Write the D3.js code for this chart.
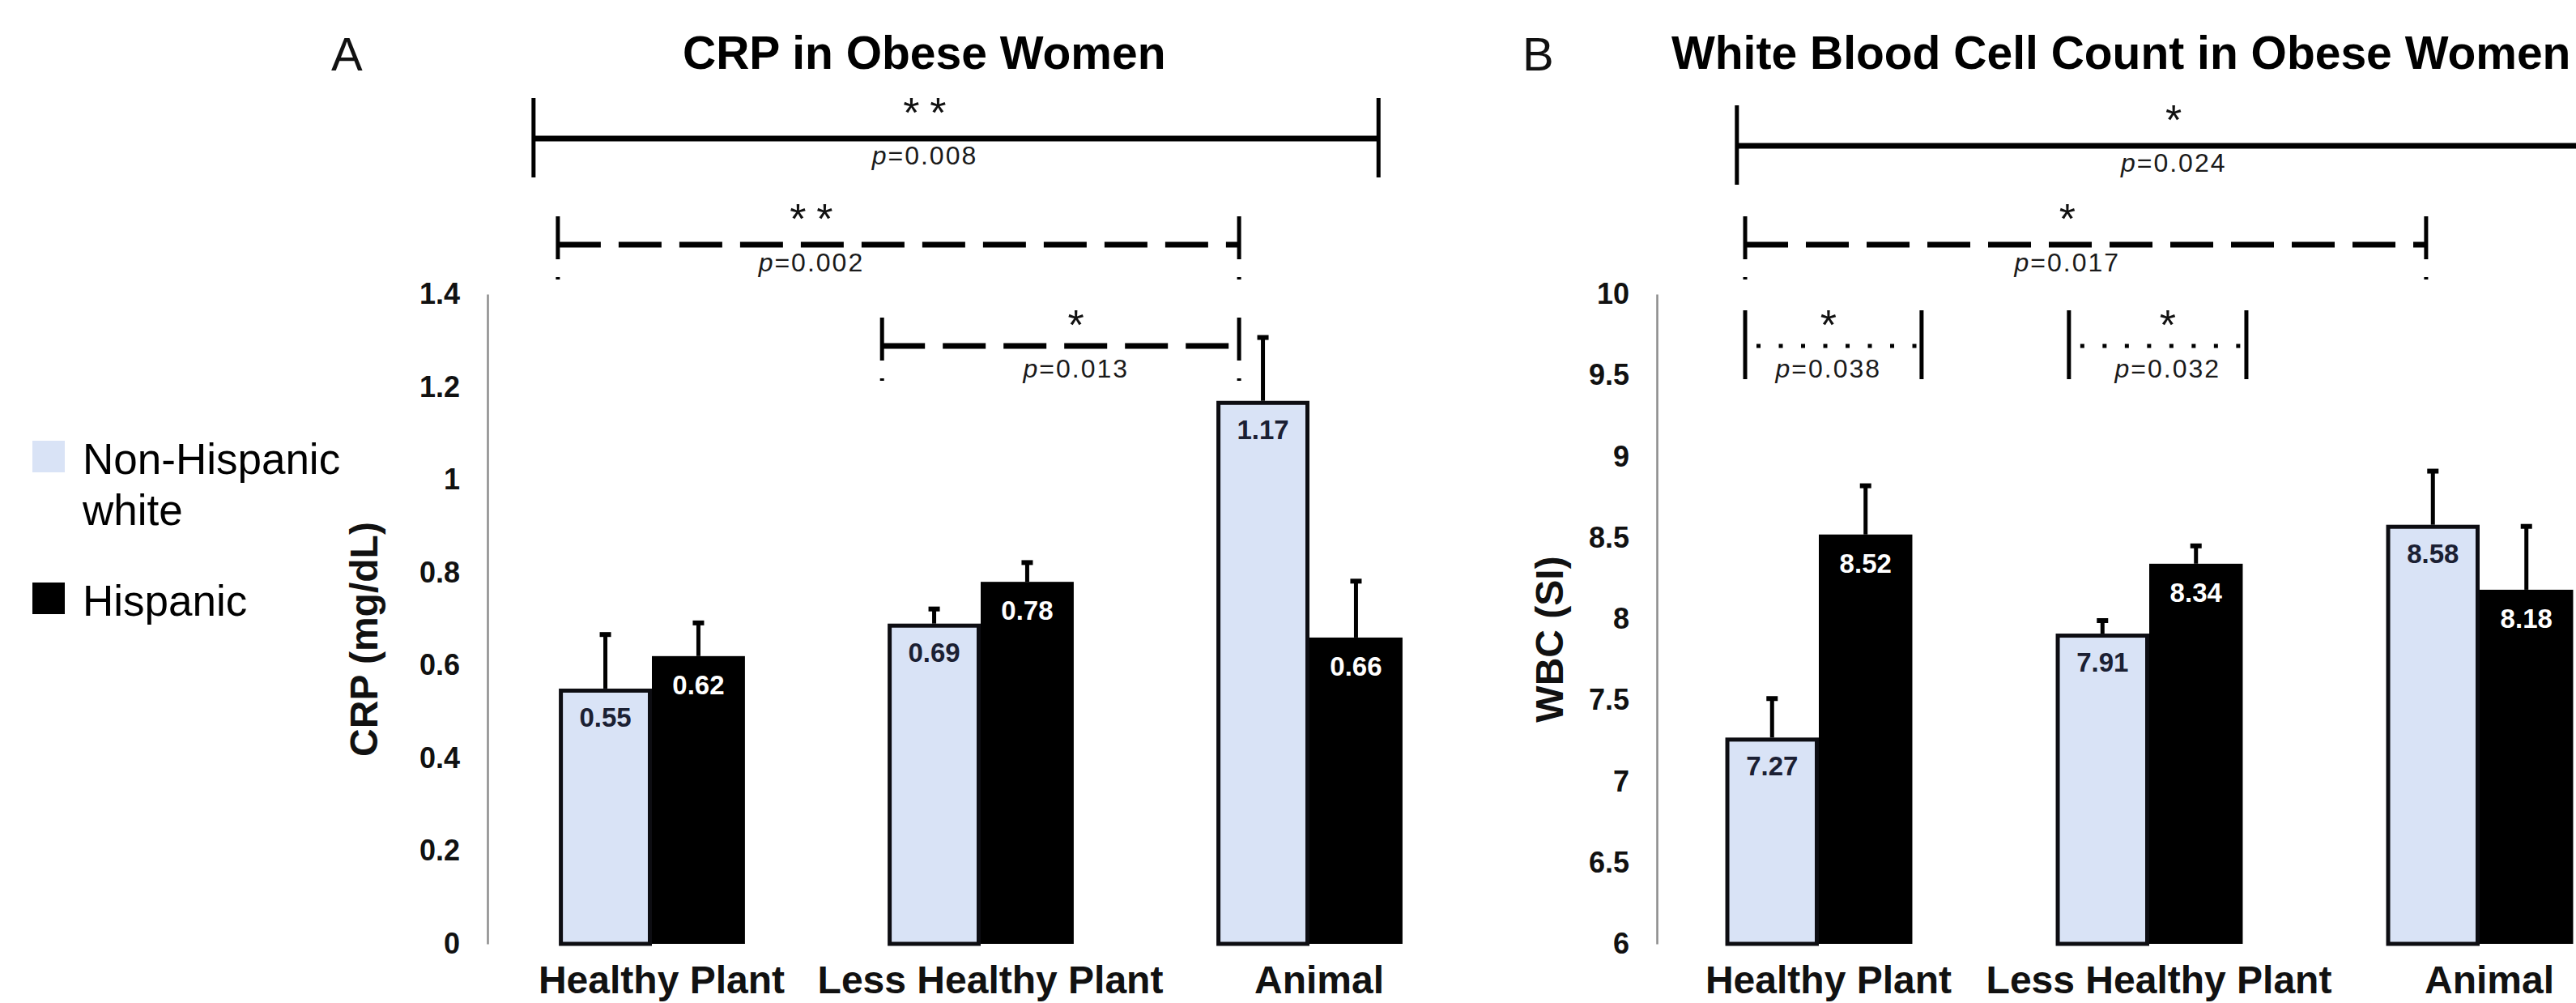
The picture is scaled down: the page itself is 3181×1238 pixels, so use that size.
<!DOCTYPE html>
<html><head><meta charset="utf-8">
<script src="https://cdn.jsdelivr.net/npm/d3@7"></script>
<style>
html,body{margin:0;padding:0;background:#fff;}
svg{display:block;font-family:"Liberation Sans",Arial,Helvetica,sans-serif;}
</style>
</head><body>
<svg id="chart" width="3181" height="1238"></svg>
<script>
// ---------- data ----------
const categories = ["Healthy Plant", "Less Healthy Plant", "Animal"];
const seriesNames = ["Non-Hispanic white", "Hispanic"];

const crpNHW = [0.55, 0.69, 1.17];
const crpHisp = [0.62, 0.78, 0.66];
const crpNHWErr = [0.12, 0.035, 0.14];
const crpHispErr = [0.075, 0.045, 0.125];

const wbcNHW = [7.27, 7.91, 8.58];
const wbcHisp = [8.52, 8.34, 8.18];
const wbcNHWErr = [0.25, 0.09, 0.34];
const wbcHispErr = [0.31, 0.12, 0.40];

const crpTicks = [0, 0.2, 0.4, 0.6, 0.8, 1, 1.2, 1.4];
const crpTickLabels = ["0", "0.2", "0.4", "0.6", "0.8", "1", "1.2", "1.4"];
const wbcTicks = [6, 6.5, 7, 7.5, 8, 8.5, 9, 9.5, 10];
const wbcTickLabels = ["6", "6.5", "7", "7.5", "8", "8.5", "9", "9.5", "10"];

// significance brackets: positions in category units (0 = left edge of first group, 1 = one group)
const crpBrackets = [
  {row: 0, kind: "solid",  from: 0.14,  to: 2.71,  mid: 1.33,  stars: 2, p: "0.008"},
  {row: 1, kind: "dashed", from: 0.214, to: 2.286, mid: 0.985, stars: 2, p: "0.002"},
  {row: 2, kind: "dashed", from: 1.2,   to: 2.286, mid: 1.79,  stars: 1, p: "0.013"}
];
const wbcBrackets = [
  {row: 0, kind: "solid",  from: 0.252, to: 3.5,   mid: 1.574, stars: 1, p: "0.024"},
  {row: 1, kind: "dashed", from: 0.277, to: 2.338, mid: 1.252, stars: 1, p: "0.017"},
  {row: 2, kind: "dotted", from: 0.277, to: 0.811, mid: 0.529, stars: 1, p: "0.038"},
  {row: 2, kind: "dotted", from: 1.257, to: 1.794, mid: 1.556, stars: 1, p: "0.032"}
];

// ---------- styles / layout ----------
const LIGHT = "#d9e3f6";
const svg = d3.select("#chart");
svg.append("rect").attr("width", 3181).attr("height", 1238).attr("fill", "#fff");

const Y_BASE = 1165, Y_TOP = 363;

function drawPanel(cfg) {
  const g = svg.append("g");
  const y = d3.scaleLinear().domain(cfg.domain).range([Y_BASE, Y_TOP]);
  const x0 = d3.scaleBand().domain(categories).range([cfg.bandStart, cfg.bandStart + 3 * cfg.step]).padding(0);
  const bw0 = x0.bandwidth();
  const x1 = d3.scaleBand().domain(seriesNames).range([bw0 * 0.217, bw0 * 0.783]).padding(0);
  const xu = d3.scaleLinear().domain([0, 3]).range(x0.range());

  // axis
  const axis = d3.axisLeft(y).tickValues(cfg.ticks).tickSize(0).tickSizeOuter(0).tickPadding(34)
    .tickFormat((d, i) => cfg.tickLabels[i]);
  const ax = g.append("g").attr("transform", `translate(${cfg.axisX},0)`).call(axis);
  ax.select(".domain").attr("stroke", "#8c8c8c").attr("stroke-width", 2.5);
  ax.selectAll("text").attr("font-size", 36).attr("font-weight", "bold").attr("fill", "#111")
    .attr("font-family", '"Liberation Sans",Arial,sans-serif');

  // y title
  g.append("text").attr("transform", `translate(${cfg.yTitleX},789) rotate(-90)`)
    .attr("text-anchor", "middle").attr("font-size", 48).attr("font-weight", "bold").attr("fill", "#111")
    .text(cfg.yTitle);

  // bars
  const rows = categories.map((c, i) => ({
    c, vals: [
      {s: seriesNames[0], v: cfg.nhw[i], e: cfg.nhwErr[i]},
      {s: seriesNames[1], v: cfg.hisp[i], e: cfg.hispErr[i]}
    ]
  }));
  const grp = g.selectAll("g.grp").data(rows).join("g").attr("class", "grp")
    .attr("transform", d => `translate(${x0(d.c)},0)`);

  grp.selectAll("rect.bar").data(d => d.vals).join("rect").attr("class", "bar")
    .attr("x", d => d.s === seriesNames[0] ? x1(d.s) + 2.5 : x1(d.s))
    .attr("y", d => d.s === seriesNames[0] ? y(d.v) + 2.5 : y(d.v))
    .attr("width", d => d.s === seriesNames[0] ? x1.bandwidth() - 5 : x1.bandwidth())
    .attr("height", d => d.s === seriesNames[0] ? Y_BASE - y(d.v) - 2.5 : Y_BASE - y(d.v))
    .attr("fill", d => d.s === seriesNames[0] ? LIGHT : "#000")
    .attr("stroke", d => d.s === seriesNames[0] ? "#0d0d12" : "none")
    .attr("stroke-width", 5);

  // error bars
  grp.selectAll("line.err").data(d => d.vals).join("line").attr("class", "err")
    .attr("x1", d => x1(d.s) + x1.bandwidth() / 2).attr("x2", d => x1(d.s) + x1.bandwidth() / 2)
    .attr("y1", d => y(d.v)).attr("y2", d => y(d.v + d.e))
    .attr("stroke", "#000").attr("stroke-width", 5);
  grp.selectAll("rect.cap").data(d => d.vals).join("rect").attr("class", "cap")
    .attr("x", d => x1(d.s) + x1.bandwidth() / 2 - 7).attr("y", d => y(d.v + d.e) - 1)
    .attr("width", 14).attr("height", 6).attr("fill", "#000");

  // value labels
  grp.selectAll("text.val").data(d => d.vals).join("text").attr("class", "val")
    .attr("x", d => x1(d.s) + x1.bandwidth() / 2).attr("y", d => y(d.v) + 47)
    .attr("text-anchor", "middle").attr("font-size", 33).attr("font-weight", "bold")
    .attr("fill", d => d.s === seriesNames[0] ? "#1b2033" : "#fff")
    .text(d => d.v.toFixed(2));

  // category labels
  g.selectAll("text.cat").data(categories).join("text").attr("class", "cat")
    .attr("x", d => x0(d) + bw0 / 2 + 12).attr("y", 1226)
    .attr("text-anchor", "middle").attr("font-size", 48).attr("font-weight", "bold").attr("fill", "#111")
    .text(d => d);

  // brackets
  const vExt = {solid: [-50, 48], dashed: [-35, 43], dotted: [-44, 41]};
  const hDash = {solid: null, dashed: "53,22", dotted: "5,22.5"};
  const vDash = {solid: null, dashed: "53,22", dotted: null};
  const starOff = [-14, -14, -8];
  const pOff = [32, 33, 39];
  cfg.brackets.forEach(b => {
    const ly = cfg.rowY[b.row];
    const xa = xu(b.from), xb = xu(b.to), xm = xu(b.mid);
    const bg = g.append("g");
    bg.append("line").attr("x1", xa).attr("x2", xb).attr("y1", ly).attr("y2", ly)
      .attr("stroke", "#000").attr("stroke-width", b.kind === "dotted" ? 5 : 7)
      .attr("stroke-dasharray", hDash[b.kind])
      .attr("stroke-dashoffset", b.kind === "dotted" ? -14 : 0);
    [xa, xb].forEach(xx => {
      bg.append("line").attr("x1", xx).attr("x2", xx)
        .attr("y1", ly + vExt[b.kind][0]).attr("y2", ly + vExt[b.kind][1])
        .attr("stroke", "#000").attr("stroke-width", 5)
        .attr("stroke-dasharray", vDash[b.kind]);
    });
    const starXs = b.stars === 2 ? [xm - 16.5, xm + 16.5] : [xm];
    starXs.forEach(sx => {
      bg.append("text").attr("x", sx).attr("y", ly + starOff[b.row])
        .attr("text-anchor", "middle").attr("font-size", 52).attr("fill", "#111").text("*");
    });
    const pt = bg.append("text").attr("x", xm).attr("y", ly + pOff[b.row])
      .attr("text-anchor", "middle").attr("font-size", 32).attr("letter-spacing", 2).attr("fill", "#1a1a1a");
    pt.append("tspan").attr("font-style", "italic").text("p");
    pt.append("tspan").text("=" + b.p);
  });

  // title & panel letter
  g.append("text").attr("x", cfg.letterX).attr("y", 87).attr("font-size", 58).attr("fill", "#111").text(cfg.letter);
  g.append("text").attr("x", cfg.titleX).attr("y", 85).attr("font-size", 57).attr("font-weight", "bold")
    .attr("fill", "#000").text(cfg.title);
}

drawPanel({
  domain: [0, 1.4], ticks: crpTicks, tickLabels: crpTickLabels,
  nhw: crpNHW, hisp: crpHisp, nhwErr: crpNHWErr, hispErr: crpHispErr,
  axisX: 602, bandStart: 602, step: 406, yTitleX: 466, yTitle: "CRP (mg/dL)",
  brackets: crpBrackets, rowY: [171, 302, 427],
  letter: "A", letterX: 409, title: "CRP in Obese Women", titleX: 843
});
drawPanel({
  domain: [6, 10], ticks: wbcTicks, tickLabels: wbcTickLabels,
  nhw: wbcNHW, hisp: wbcHisp, nhwErr: wbcNHWErr, hispErr: wbcHispErr,
  axisX: 2046, bandStart: 2042, step: 408, yTitleX: 1930, yTitle: "WBC (SI)",
  brackets: wbcBrackets, rowY: [180, 302, 427],
  letter: "B", letterX: 1880, title: "White Blood Cell Count in Obese Women", titleX: 2064
});

// legend
const legend = svg.append("g");
const legendItems = [
  {name: seriesNames[0], fill: LIGHT, lines: ["Non-Hispanic", "white"], sy: 544},
  {name: seriesNames[1], fill: "#000", lines: ["Hispanic"], sy: 719}
];
legendItems.forEach(it => {
  legend.append("rect").attr("x", 40).attr("y", it.sy).attr("width", 40).attr("height", 39).attr("fill", it.fill);
  const t = legend.append("text").attr("x", 102).attr("y", it.sy + 41).attr("font-size", 53).attr("fill", "#000");
  it.lines.forEach((l, i) => t.append("tspan").attr("x", 102).attr("dy", i === 0 ? 0 : 63).text(l));
});
</script>
</body></html>
